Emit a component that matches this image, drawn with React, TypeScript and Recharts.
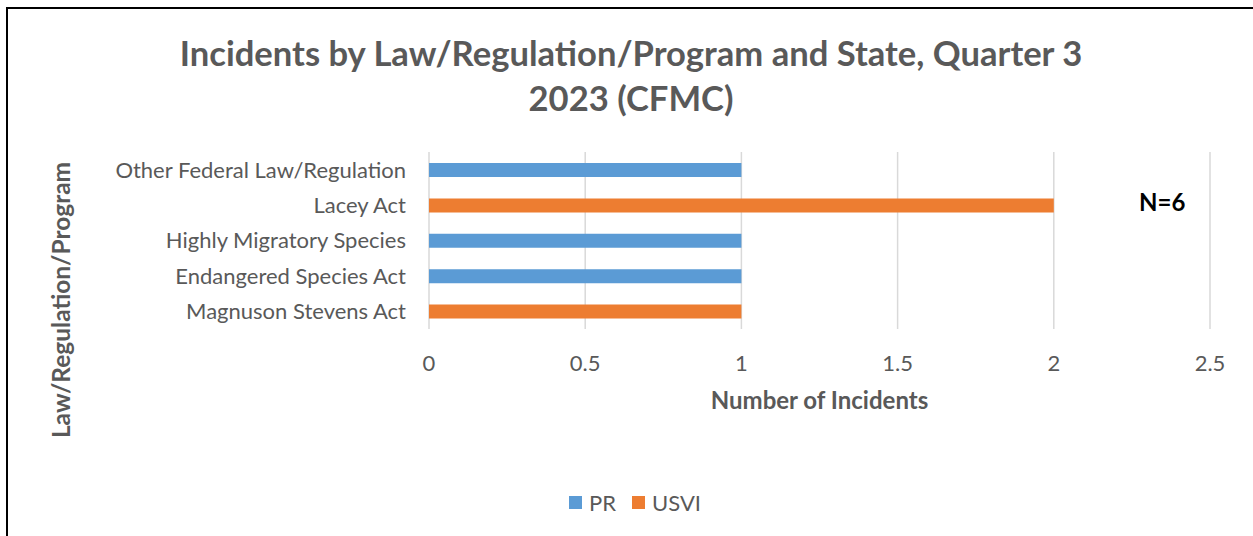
import { Bar, BarChart, CartesianGrid, Legend, XAxis, YAxis } from 'recharts'

const categories = [
  'Other Federal Law/Regulation',
  'Lacey Act',
  'Highly Migratory Species',
  'Endangered Species Act',
  'Magnuson Stevens Act',
]
const prValues = [1, 0, 1, 1, 0]
const usviValues = [0, 2, 0, 0, 1]
const xTicks = [0, 0.5, 1, 1.5, 2, 2.5]

const data = categories.map((name, i) => ({ name, PR: prValues[i], USVI: usviValues[i] }))

const FONT = 'Lato, "Open Sans", sans-serif'
const GRAY = '#595959'

function YTitle() {
  return (
    <text
      x={60}
      y={300}
      transform="rotate(-90 60 300)"
      textAnchor="middle"
      dominantBaseline="central"
      fill={GRAY}
      fontSize={24.5}
      fontWeight={700}
      fontFamily={FONT}
    >
      Law/Regulation/Program
    </text>
  )
}

function LegendContent({ payload }: any) {
  return (
    <div style={{ display: 'flex', justifyContent: 'center', gap: 16, fontSize: 22, fontFamily: FONT, color: GRAY }}>
      {(payload || []).map((p: any) => (
        <span key={p.value} style={{ display: 'inline-flex', alignItems: 'center', gap: 7 }}>
          <span style={{ width: 13, height: 13, background: p.color, display: 'inline-block' }} />
          {p.value}
        </span>
      ))}
    </div>
  )
}

export default function App() {
  return (
    <div style={{ position: 'absolute', left: 0, top: 0, width: 1253, height: 536, background: '#fff', overflow: 'hidden', fontFamily: FONT }}>
      <div style={{ position: 'absolute', left: 6, top: 7, width: 1260, height: 540, border: '2px solid #000', boxSizing: 'border-box' }} />
      <div style={{ position: 'absolute', left: 0, top: 30, width: 1262, textAlign: 'center', color: GRAY, fontSize: 34.6, fontWeight: 700, lineHeight: '45px' }}>
        Incidents by Law/Regulation/Program and State, Quarter 3
        <br />
        2023 (CFMC)
      </div>
      <div style={{ position: 'absolute', left: 1139, top: 187, color: '#000', fontSize: 24, fontWeight: 700 }}>N=6</div>
      <BarChart
        width={1253}
        height={536}
        data={data}
        layout="vertical"
        margin={{ top: 152, right: 43, bottom: 0, left: 0 }}
        style={{ position: 'absolute', left: 0, top: 0 }}
      >
        <CartesianGrid vertical horizontal={false} stroke="#d9d9d9" strokeWidth={1.5} />
        <XAxis
          type="number"
          domain={[0, 2.5]}
          ticks={xTicks}
          axisLine={false}
          tickLine={false}
          tickMargin={20}
          height={180}
          tick={{ fill: GRAY, fontSize: 22, fontFamily: FONT }}
          label={{ value: 'Number of Incidents', position: 'insideTop', offset: 63, fill: GRAY, fontSize: 24, fontWeight: 700, fontFamily: FONT }}
        />
        <YAxis
          type="category"
          dataKey="name"
          width={429}
          axisLine={false}
          tickLine={false}
          tickMargin={17}
          tick={{ fill: GRAY, fontSize: 22, fontFamily: FONT }}
          label={<YTitle />}
        />
        <Legend
          verticalAlign="bottom"
          align="center"
          content={<LegendContent />}
          wrapperStyle={{ bottom: 20, left: 0, width: 1270 }}
        />
        <Bar dataKey="PR" name="PR" stackId="a" fill="#5b9bd5" barSize={14} isAnimationActive={false} />
        <Bar dataKey="USVI" name="USVI" stackId="a" fill="#ed7d31" barSize={14} isAnimationActive={false} />
      </BarChart>
    </div>
  )
}
